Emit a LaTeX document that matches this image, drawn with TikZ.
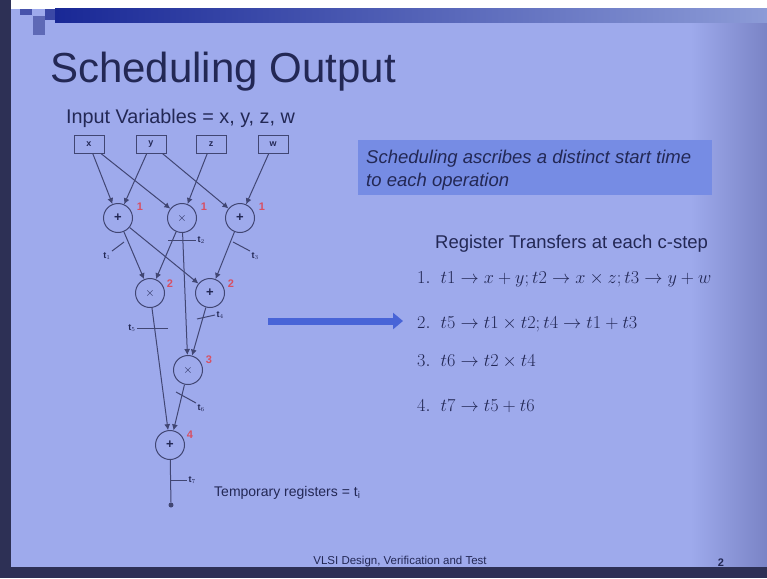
\documentclass[tikz,border=0pt]{standalone}
\usepackage{fontspec}
\usepackage{graphicx}
\setmainfont{Liberation Sans}
\usetikzlibrary{arrows.meta}
\definecolor{bg}{RGB}{158,170,236}
\definecolor{bgdark}{RGB}{122,132,198}
\definecolor{edgedark}{RGB}{45,48,85}
\definecolor{navy}{RGB}{25,40,150}
\definecolor{barlight}{RGB}{140,155,215}
\definecolor{txt}{RGB}{35,40,85}
\definecolor{linecol}{RGB}{65,70,115}
\definecolor{boxblue}{RGB}{118,140,228}
\definecolor{arrowblue}{RGB}{72,100,215}
\definecolor{rednum}{RGB}{215,80,100}
\tikzset{
  inbox/.style={draw=linecol, line width=1, minimum width=30, minimum height=18, inner sep=0, font=\fontsize{9}{10}\selectfont\bfseries, text=txt},
  opnode/.style={circle, draw=linecol, line width=1, minimum size=29, inner sep=0, font=\fontsize{13}{13}\selectfont\bfseries, text=txt},
  edge/.style={draw=linecol, line width=1, -{Latex[length=6pt,width=6pt]}},
  plain/.style={draw=linecol, line width=1},
  tick/.style={draw=linecol, line width=1},
  tlab/.style={font=\fontsize{9}{10}\selectfont\bfseries, text=txt, inner sep=1},
  stepnum/.style={font=\fontsize{11}{11}\selectfont\bfseries, text=rednum, inner sep=0},
  body/.style={font=\fontsize{18.5}{22}\selectfont, text=txt, inner sep=0},
  mathline/.style={font=\fontsize{17.28}{22}\selectfont, text=txt, inner sep=0, anchor=base west}
}
\begin{document}
\begin{tikzpicture}[x=1pt,y=-1pt]
\useasboundingbox (0,0) rectangle (767,578);
% background
\fill[bg] (0,0) rectangle (767,578);
\shade[left color=bg, right color=bgdark] (690,9) rectangle (767,567);
\fill[white] (10,0) rectangle (767,9);
\fill[edgedark] (0,0) rectangle (11,578);
\fill[edgedark] (0,567) rectangle (767,578);
\shade[left color=navy, right color=barlight] (55,9) rectangle (767,23);
\fill[navy!80] (20,9) rectangle (32,15);
\fill[navy!70] (33,16) rectangle (45,35);
\fill[navy!85] (45,9) rectangle (55,20);

% title
\node[anchor=base west, inner sep=0, text=txt, font=\fontsize{42}{50}\selectfont] (title) at (50,82) {Scheduling Output};
\node[body, anchor=base west, font=\fontsize{19.8}{22}\selectfont] (invars) at (66,123) {Input Variables = x, y, z, w};

% inputs
\node[inbox] (x) at (89,144) {x};
\node[inbox] (y) at (151,144) {y};
\node[inbox] (z) at (211,144) {z};
\node[inbox] (w) at (273,144) {w};

% operations
\node[opnode] (p1) at (118,218) {+};
\node[opnode] (m1) at (182,218) {$\times$};
\node[opnode] (p3) at (240,218) {+};
\node[opnode] (m2) at (150,293) {$\times$};
\node[opnode] (p2) at (210,293) {+};
\node[opnode] (m3) at (188,370) {$\times$};
\node[opnode] (p4) at (170,445) {+};
\node[circle, fill=linecol, minimum size=5, inner sep=0] (out) at (171,505) {};

% step numbers
\node[stepnum] (s1a) at (140,207) {1};
\node[stepnum] (s1b) at (204,207) {1};
\node[stepnum] (s1c) at (262,207) {1};
\node[stepnum] (s2a) at (170,284) {2};
\node[stepnum] (s2b) at (231,284) {2};
\node[stepnum] (s3) at (209,360) {3};
\node[stepnum] (s4) at (190,435) {4};

% edges
\draw[edge] (x) -- (p1);
\draw[edge] (x) -- (m1);
\draw[edge] (y) -- (p1);
\draw[edge] (y) -- (p3);
\draw[edge] (z) -- (m1);
\draw[edge] (w) -- (p3);
\draw[edge] (p1) -- (m2);
\draw[edge] (p1) -- (p2);
\draw[edge] (m1) -- (m2);
\draw[edge] (m1) -- (m3);
\draw[edge] (p3) -- (p2);
\draw[edge] (p2) -- (m3);
\draw[edge] (m2) -- (p4);
\draw[edge] (m3) -- (p4);
\draw[plain] (p4) -- (out);

% register ticks
\draw[tick] (124,242) -- (112,251) node[tlab, anchor=north east] (t1) {t$_1$};
\draw[tick] (168,240) -- (196,240) node[tlab, anchor=west] (t2) {t$_2$};
\draw[tick] (233,242) -- (250,251) node[tlab, anchor=north west] (t3) {t$_3$};
\draw[tick] (197,319) -- (215,315) node[tlab, anchor=west] (t4) {t$_4$};
\draw[tick] (168,328) -- (137,328) node[tlab, anchor=east] (t5) {t$_5$};
\draw[tick] (176,392) -- (196,403) node[tlab, anchor=north west] (t6) {t$_6$};
\draw[tick] (171,480) -- (187,480) node[tlab, anchor=west] (t7) {t$_7$};

\node[body, anchor=base west, font=\fontsize{14}{18}\selectfont] (temp) at (214,496) {Temporary registers = t\textsubscript{i}};

% info box
\node[fill=boxblue, anchor=north west, minimum width=354, minimum height=55, inner sep=0] (sbox) at (358,140) {};
\node[body, anchor=base west, font=\fontsize{18.5}{22}\selectfont\itshape] (sl1) at (366,163) {Scheduling ascribes a distinct start time};
\node[body, anchor=base west, font=\fontsize{18.5}{22}\selectfont\itshape] (sl2) at (366,186) {to each operation};

% register transfers
\node[body, anchor=base west] (rt) at (435,248) {Register Transfers at each c-step};
\node[mathline] (l1) at (417,283) {\scalebox{1.055}{$1.\ \ t1 \rightarrow x+y; t2 \rightarrow x\times z; t3 \rightarrow y+w$}};
\node[mathline] (l2) at (417,328) {\scalebox{1.055}{$2.\ \ t5 \rightarrow t1\times t2; t4 \rightarrow t1+t3$}};
\node[mathline] (l3) at (417,366) {\scalebox{1.055}{$3.\ \ t6 \rightarrow t2\times t4$}};
\node[mathline] (l4) at (417,411) {\scalebox{1.055}{$4.\ \ t7 \rightarrow t5+t6$}};

% big arrow
\coordinate (arrS) at (268,321);
\coordinate (arrE) at (403,321);
\draw[arrowblue, line width=7, -{Triangle[length=10pt,width=16pt]}] (arrS) -- (arrE);

% footer
\node[text=txt, font=\fontsize{11.5}{13}\selectfont, inner sep=0] (foot) at (400,562) {VLSI Design, Verification and Test};
\node[text=txt, font=\fontsize{11}{13}\selectfont\bfseries, inner sep=0] (pg) at (721,563) {2};
\end{tikzpicture}
\end{document}
